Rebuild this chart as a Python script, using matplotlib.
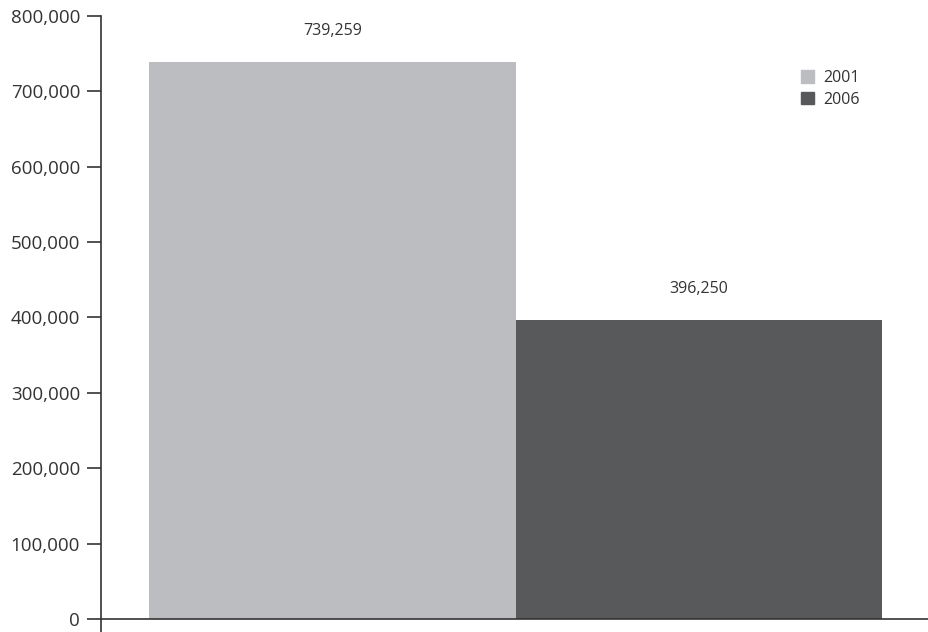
import matplotlib.pyplot as plt
from matplotlib.patches import Patch
from matplotlib.ticker import FuncFormatter

plt.rcParams['font.family'] = ['Open Sans', 'DejaVu Sans']

# data
years = ['2001', '2006']
values = [739259, 396250]
colors = ['#bcbdc0', '#58595b']
yticks = [0, 100000, 200000, 300000, 400000, 500000, 600000, 700000, 800000]

fig = plt.figure(figsize=(9.29, 6.32), dpi=100)
ax = fig.add_axes([101 / 929, 0, 1 - 101 / 929, 1 - 16 / 632])

pos = list(range(len(values)))
ax.bar(pos, values, width=1.0, color=colors, zorder=1)

for x, v in zip(pos, values):
    ax.text(x, v + 41000, f'{v:,}', ha='center', va='center',
            fontsize=11.5, color='#333333')

# axis at zero
ax.axhline(0, color='#333333', lw=1.2, zorder=3)

ax.set_xlim(-0.5 - 48 / 366.5, 1.5 + 47 / 366.5)
ax.set_ylim(-17250, 800000)
ax.set_yticks(yticks)
ax.yaxis.set_major_formatter(FuncFormatter(lambda v, p: f'{int(v):,}'))
ax.tick_params(axis='y', length=10, width=1.2, color='#333333',
               labelsize=13.5, labelcolor='#333333', pad=5)
ax.set_xticks([])
for s in ['top', 'right', 'bottom']:
    ax.spines[s].set_visible(False)
ax.spines['left'].set_color('#333333')
ax.spines['left'].set_linewidth(1.2)

handles = [Patch(color=c, label=y) for c, y in zip(colors, years)]
fig.legend(handles=handles, loc='upper left', bbox_to_anchor=(0.8505, 0.907),
           frameon=False, fontsize=11.5, handlelength=0.8, handleheight=0.8,
           handletextpad=0.6, labelspacing=0.36, labelcolor='#333333',
           borderpad=0.2)

fig.savefig('out.png', dpi=100)
